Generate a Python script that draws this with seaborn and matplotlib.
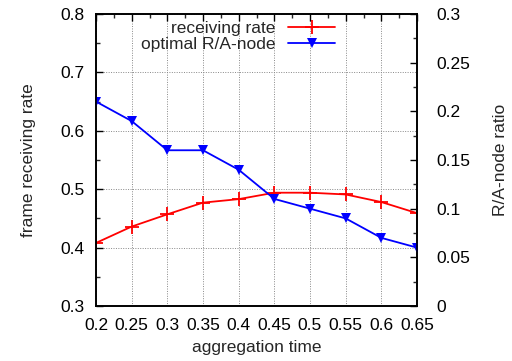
import matplotlib
matplotlib.use("Agg")
import matplotlib.pyplot as plt
import seaborn as sns
import pandas as pd
from matplotlib.ticker import MultipleLocator

sns.set_theme(style="white")
plt.rcParams['font.family'] = ['Liberation Sans', 'DejaVu Sans']

agg_time = [0.2, 0.25, 0.3, 0.35, 0.4, 0.45, 0.5, 0.55, 0.6, 0.65]
receiving_rate = [0.408, 0.436, 0.457, 0.477, 0.483, 0.494, 0.494, 0.491, 0.478, 0.459]
ra_node_ratio = [0.21, 0.19, 0.16, 0.16, 0.14, 0.11, 0.10, 0.09, 0.07, 0.06]
x_ticks = [0.2, 0.25, 0.3, 0.35, 0.4, 0.45, 0.5, 0.55, 0.6, 0.65]

df = pd.DataFrame({"t": agg_time, "rate": receiving_rate, "ratio": ra_node_ratio})

FS = 12.5
fig = plt.figure(figsize=(5.12, 3.61), dpi=100)
ax = fig.add_axes([96/512, 55/361, (417-96)/512, (306-14)/361])
ax2 = ax.twinx()

sns.lineplot(data=df, x="t", y="rate", ax=ax, color="red", marker="+",
             markersize=10, markeredgewidth=1.3, markeredgecolor="red", linewidth=1.3,
             label="receiving rate", legend=False)
sns.lineplot(data=df, x="t", y="ratio", ax=ax2, color="blue", marker="v",
             markersize=7, markeredgewidth=0, markeredgecolor="blue", linewidth=1.3,
             label="optimal R/A-node", legend=False)

ax.set_xlim(0.2, 0.65)
ax.set_xticks(x_ticks)
ax.set_xticklabels([f"{v:g}" for v in x_ticks])
ax.xaxis.set_minor_locator(MultipleLocator(0.025))
left_ticks = [0.3, 0.4, 0.5, 0.6, 0.7, 0.8]
right_ticks = [0, 0.05, 0.1, 0.15, 0.2, 0.25, 0.3]
ax.set_yticks(left_ticks)
ax.set_yticklabels([f"{v:g}" for v in left_ticks])
ax.yaxis.set_minor_locator(MultipleLocator(0.05))
ax2.set_yticks(right_ticks)
ax2.set_yticklabels([f"{v:g}" for v in right_ticks])
ax2.yaxis.set_minor_locator(MultipleLocator(0.025))
ax.set_ylim(0.3, 0.8)
ax2.set_ylim(0, 0.3)

ax.grid(True, which="major", color="#888888", linestyle=(0, (1, 1.5)), linewidth=0.7)
ax.set_axisbelow(True)

for a in (ax, ax2):
    for s in a.spines.values():
        s.set_color("black")
        s.set_linewidth(1.2)
ax.tick_params(axis="both", which="major", direction="in", length=5, width=1, labelsize=FS, colors="black", top=True, pad=9)
ax.tick_params(axis="both", which="minor", direction="in", length=3, width=1, top=True)
ax.tick_params(axis="y", which="both", right=False)
ax.tick_params(axis="y", which="major", pad=8)
ax2.tick_params(axis="y", which="major", direction="in", length=5, width=1, labelsize=FS, colors="black", pad=14)
ax2.tick_params(axis="y", which="minor", direction="in", length=3, width=1)

ax.set_xlabel("aggregation time", fontsize=FS, labelpad=5)
ax.set_ylabel("frame receiving rate", fontsize=FS, labelpad=18)
ax2.set_ylabel("R/A-node ratio", fontsize=FS, labelpad=16)

h1, l1 = ax.get_legend_handles_labels()
h2, l2 = ax2.get_legend_handles_labels()
leg = ax2.legend(h1 + h2, l1 + l2, loc="upper right", markerfirst=False, frameon=False,
                 fontsize=FS, handlelength=2.7, borderaxespad=0, borderpad=0,
                 labelspacing=0.05, handletextpad=0.75,
                 bbox_to_anchor=(335/512, 1 - 21/361), bbox_transform=fig.transFigure)

fig.savefig("out.png", dpi=100)
